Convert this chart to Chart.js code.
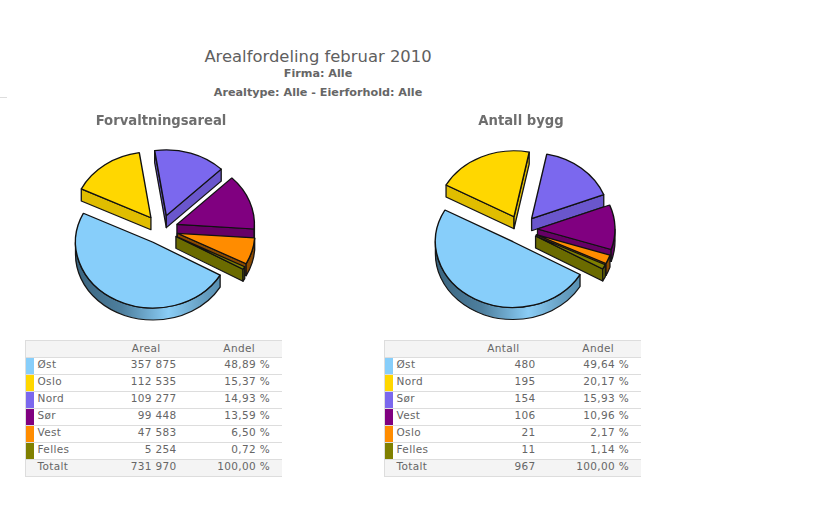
<!DOCTYPE html>
<html>
<head>
<meta charset="utf-8">
<title>Arealfordeling februar 2010</title>
<script src="https://cdn.jsdelivr.net/npm/chart.js@4"></script>
<style>
    html, body { margin: 0; padding: 0; background: #fff; }
    body { width: 837px; height: 519px; position: relative; overflow: hidden; font-family: "DejaVu Sans", sans-serif; color: #666; }
    .head { position: absolute; left: 118px; width: 400px; text-align: center; white-space: nowrap; }
    #h1 { top: 47px; font-size: 16.4px; color: #5f5f5f; }
    #h2 { top: 67px; font-size: 11.2px; font-weight: bold; }
    #h3 { top: 86px; font-size: 11.2px; font-weight: bold; }
    #tick { position: absolute; left: 0; top: 97px; width: 7px; height: 1px; background: #ddd; }
    canvas { position: absolute; }
    table { position: absolute; top: 340px; width: 257px; border-collapse: collapse; table-layout: fixed; font-size: 10.5px; letter-spacing: 0.35px; border-top: 1px solid #ddd; border-left: 1px solid #ddd; }
    td { height: 16px; padding: 0; border-bottom: 1px solid #ddd; white-space: nowrap; line-height: 12px; vertical-align: top; }
    tr.grey td { background: #f4f4f4; }
    td.sw div { width: 8px; height: 16px; }
    td.name { padding-left: 1px; }
    td.num { text-align: right; }
    td.pct { text-align: right; padding-right: 12px; }
    td.hd1 { text-align: right; padding-right: 16px; line-height: 14px; }
    td.hd2 { text-align: right; padding-right: 27px; line-height: 14px; }
</style>
</head>
<body>
<div class="head" id="h1">Arealfordeling februar 2010</div>
<div class="head" id="h2">Firma: Alle</div>
<div class="head" id="h3">Arealtype: Alle - Eierforhold: Alle</div>
<div id="tick"></div>
<canvas id="pieAreal" width="210" height="230" style="left:56px;top:105px;width:210px;height:230px"></canvas>
<canvas id="pieBygg" width="210" height="230" style="left:416px;top:105px;width:210px;height:230px"></canvas>
<table id="tableAreal" style="left:25px"></table>
<table id="tableBygg" style="left:384px"></table>
<script>
// Forvaltningsareal
const arealLabels = ['Øst', 'Oslo', 'Nord', 'Sør', 'Vest', 'Felles'];
const arealValues = [357875, 112535, 109277, 99448, 47583, 5254];
const arealShares = ['48,89 %', '15,37 %', '14,93 %', '13,59 %', '6,50 %', '0,72 %'];

// Antall bygg
const byggLabels = ['Øst', 'Nord', 'Sør', 'Vest', 'Oslo', 'Felles'];
const byggValues = [480, 195, 154, 106, 21, 11];
const byggShares = ['49,64 %', '20,17 %', '15,93 %', '10,96 %', '2,17 %', '1,14 %'];

const sliceColors = ['#87CEFA', '#FFD700', '#7B68EE', '#800080', '#FF8C00', '#808000'];
const wallColors = ['#5A8FB0', '#E0BD00', '#6A56CC', '#660066', '#8B4A00', '#6B6B00'];

const squash = 0.85;
const depth = 12;

function formatNumber(n) {
    return String(n).replace(/\B(?=(\d{3})+$)/g, ' ');
}

// draws the slices as an exploded, tilted pie with side walls
const pie3d = {
    id: 'pie3d',
    beforeDatasetDraw(chart, args, opts) {
        const ctx = chart.ctx;
        const arcs = args.meta.data;
        const mid = a => (a.startAngle + a.endAngle) / 2;
        const order = arcs.map((a, i) => i).sort((p, q) => Math.sin(mid(arcs[p])) - Math.sin(mid(arcs[q])));
        const TAU = Math.PI * 2;

        order.forEach(i => {
            const arc = arcs[i];
            const x = arc.x, y = arc.y, r = arc.outerRadius;
            const dy = depth / squash;
            let start = arc.startAngle % TAU;
            if (start < 0) start += TAU;
            const end = start + (arc.endAngle - arc.startAngle);

            ctx.save();
            ctx.translate(x, y);
            ctx.scale(1, squash);
            ctx.translate(-x, -y);
            ctx.translate(Math.cos(mid(arc)) * opts.explode, Math.sin(mid(arc)) * opts.explode);

            ctx.lineWidth = 1.3;
            ctx.strokeStyle = '#161616';
            ctx.lineJoin = 'round';
            ctx.fillStyle = wallColors[i];

            // cut faces, only the ones turned towards the viewer
            const faces = [];
            if (Math.cos(start) < 0) faces.push(start);
            if (Math.cos(end) > 0) faces.push(end);
            faces.forEach(a => {
                const px = x + r * Math.cos(a), py = y + r * Math.sin(a);
                ctx.beginPath();
                ctx.moveTo(x, y);
                ctx.lineTo(px, py);
                ctx.lineTo(px, py + dy);
                ctx.lineTo(x, y + dy);
                ctx.closePath();
                ctx.fill();
                ctx.stroke();
            });

            // outer wall
            if (i === 0) {
                const grad = ctx.createLinearGradient(x - r, 0, x + r, 0);
                grad.addColorStop(0, '#3A647E');
                grad.addColorStop(0.3, '#4E7F9E');
                grad.addColorStop(0.6, '#8ACDF6');
                grad.addColorStop(0.8, '#6AA3C6');
                grad.addColorStop(1, '#4F86A8');
                ctx.fillStyle = grad;
            }
            [0, 1].forEach(k => {
                const lo = Math.max(start, k * TAU);
                const hi = Math.min(end, k * TAU + Math.PI);
                if (hi <= lo) return;
                ctx.beginPath();
                ctx.arc(x, y, r, lo, hi);
                ctx.arc(x, y + dy, r, hi, lo, true);
                ctx.closePath();
                ctx.fill();
                ctx.stroke();
            });

            arc.draw(ctx);
            ctx.restore();
        });
        return false;
    }
};

function makePie(canvasId, title, labels, values, explode) {
    return new Chart(document.getElementById(canvasId), {
        type: 'pie',
        plugins: [pie3d],
        data: {
            labels: labels,
            datasets: [{
                data: values,
                backgroundColor: sliceColors,
                borderColor: '#111',
                borderWidth: 1.4
            }]
        },
        options: {
            responsive: false,
            animation: false,
            events: [],
            rotation: 120,
            radius: 77.5,
            layout: { padding: { bottom: 7 } },
            plugins: {
                legend: { display: false },
                tooltip: { enabled: false },
                title: {
                    display: true,
                    text: title,
                    color: '#6e6e6e',
                    font: { family: '"DejaVu Sans"', size: 13.2, weight: 'bold' },
                    padding: { top: 9, bottom: 1 }
                },
                pie3d: { explode: explode }
            }
        }
    });
}

function makeTable(tableId, heading, labels, values, shares, total) {
    let html = '<colgroup><col style="width:11px"><col style="width:81px"><col style="width:59px"><col></colgroup>';
    html += '<tr class="grey"><td></td><td class="name"></td>'
        + '<td class="hd1" style="overflow:visible">' + heading + '</td><td class="hd2">Andel</td></tr>';
    labels.forEach((label, i) => {
        html += '<tr><td class="sw"><div style="background:' + sliceColors[i] + '"></div></td>'
            + '<td class="name">' + label + '</td>'
            + '<td class="num">' + formatNumber(values[i]) + '</td>'
            + '<td class="pct">' + shares[i] + '</td></tr>';
    });
    html += '<tr class="grey"><td></td><td class="name">Totalt</td>'
        + '<td class="num">' + formatNumber(total) + '</td><td class="pct">100,00 %</td></tr>';
    document.getElementById(tableId).innerHTML = html;
}

makePie('pieAreal', 'Forvaltningsareal', arealLabels, arealValues, 17);
makePie('pieBygg', 'Antall bygg', byggLabels, byggValues, 16.5);
makeTable('tableAreal', 'Areal', arealLabels, arealValues, arealShares, 731970);
makeTable('tableBygg', 'Antall', byggLabels, byggValues, byggShares, 967);
</script>
</body>
</html>
